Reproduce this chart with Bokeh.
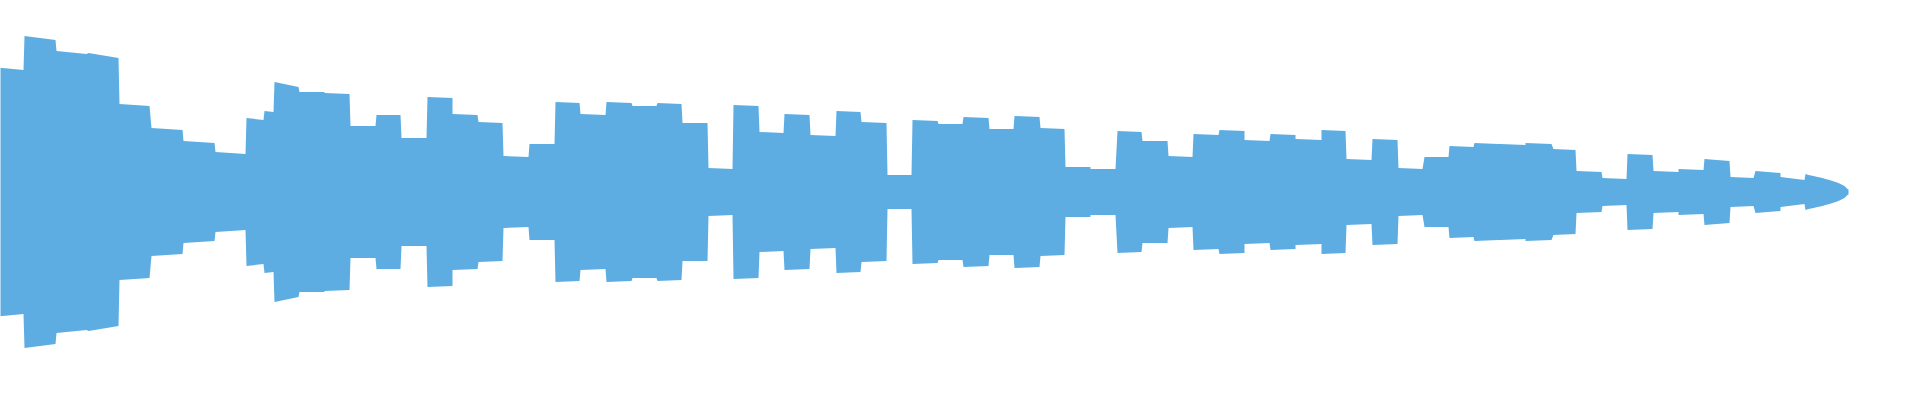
from bokeh.plotting import figure
from bokeh.models import Range1d, ColumnDataSource
from bokeh.embed import file_html
from bokeh.resources import INLINE

# Waveform envelope: segment start/end positions and amplitudes
seg_start = [1, 32, 64, 96, 127, 159, 191, 223, 254, 272,
             282, 307, 332, 358, 384, 409, 435, 460, 486, 511,
             537, 563, 588, 614, 640, 665, 690, 716, 741, 767,
             792, 818, 844, 869, 895, 920, 946, 971, 997, 1022,
             1048, 1073, 1098, 1125, 1150, 1176, 1201, 1227, 1252, 1278,
             1303, 1329, 1354, 1380, 1406, 1432, 1457, 1482, 1508, 1533,
             1561, 1584, 1610, 1635, 1661, 1686, 1712, 1738, 1763, 1788]
seg_end = [31, 63, 94, 126, 157, 190, 222, 253, 271, 281,
           306, 332, 357, 383, 408, 434, 460, 485, 510, 536,
           562, 587, 613, 639, 664, 689, 715, 740, 766, 791,
           817, 843, 868, 894, 919, 945, 970, 996, 1021, 1047,
           1072, 1098, 1123, 1149, 1175, 1200, 1226, 1252, 1277, 1303,
           1329, 1353, 1379, 1405, 1430, 1456, 1481, 1506, 1533, 1559,
           1583, 1609, 1634, 1660, 1686, 1711, 1737, 1761, 1788, 1812]
amp_start = [125, 156, 141, 139, 88, 64, 51, 40, 74, 81,
             110, 100, 99, 66, 77, 54, 95, 78, 70, 36,
             48, 90, 78, 90, 86, 89, 69, 24, 87, 60,
             78, 57, 81, 70, 17, 72, 68, 75, 63, 76,
             64, 25, 23, 61, 51, 36, 58, 62, 52, 58,
             53, 62, 33, 53, 24, 35, 46, 49, 48, 49,
             43, 21, 14, 38, 21, 23, 33, 15, 21, 15]
amp_end = [122, 152, 138, 134, 86, 62, 49, 38, 72, 80,
           105, 100, 98, 66, 77, 54, 94, 77, 69, 35,
           48, 89, 77, 89, 86, 88, 69, 23, 86, 59,
           77, 56, 80, 69, 17, 71, 68, 74, 63, 75,
           63, 25, 23, 60, 51, 35, 57, 61, 51, 57,
           52, 61, 32, 52, 23, 35, 45, 48, 47, 48,
           42, 20, 13, 37, 20, 22, 31, 14, 19, 12]
# Fading tail at the end of the waveform
tail_t = [1813, 1816, 1821, 1825, 1830, 1833, 1837, 1840, 1843, 1846, 1848, 1850, 1852, 1853, 1854, 1855, 1856]
tail_amp = [18, 17, 16, 15, 14, 13, 12, 11, 10, 9, 8, 7, 6, 5, 4, 3, 2.5]

xs, amps = [], []
for s, e, a0, a1 in zip(seg_start, seg_end, amp_start, amp_end):
    xs += [s, e]
    amps += [a0, a1]
xs += tail_t
amps += tail_amp

src = ColumnDataSource(dict(x=xs, lo=[-a for a in amps], hi=amps))

W, H = 1904, 384
p = figure(width=W, height=H, output_backend="svg", toolbar_location=None,
           x_range=Range1d(8, 8 + W), y_range=Range1d(-192.5, 191.5),
           x_axis_location=None, y_axis_location=None, min_border=0)
p.varea(x="x", y1="lo", y2="hi", source=src, fill_color="#5DADE2", fill_alpha=1.0)
p.grid.visible = False
p.outline_line_color = None

open("out.html", "w").write(file_html(p, INLINE))
